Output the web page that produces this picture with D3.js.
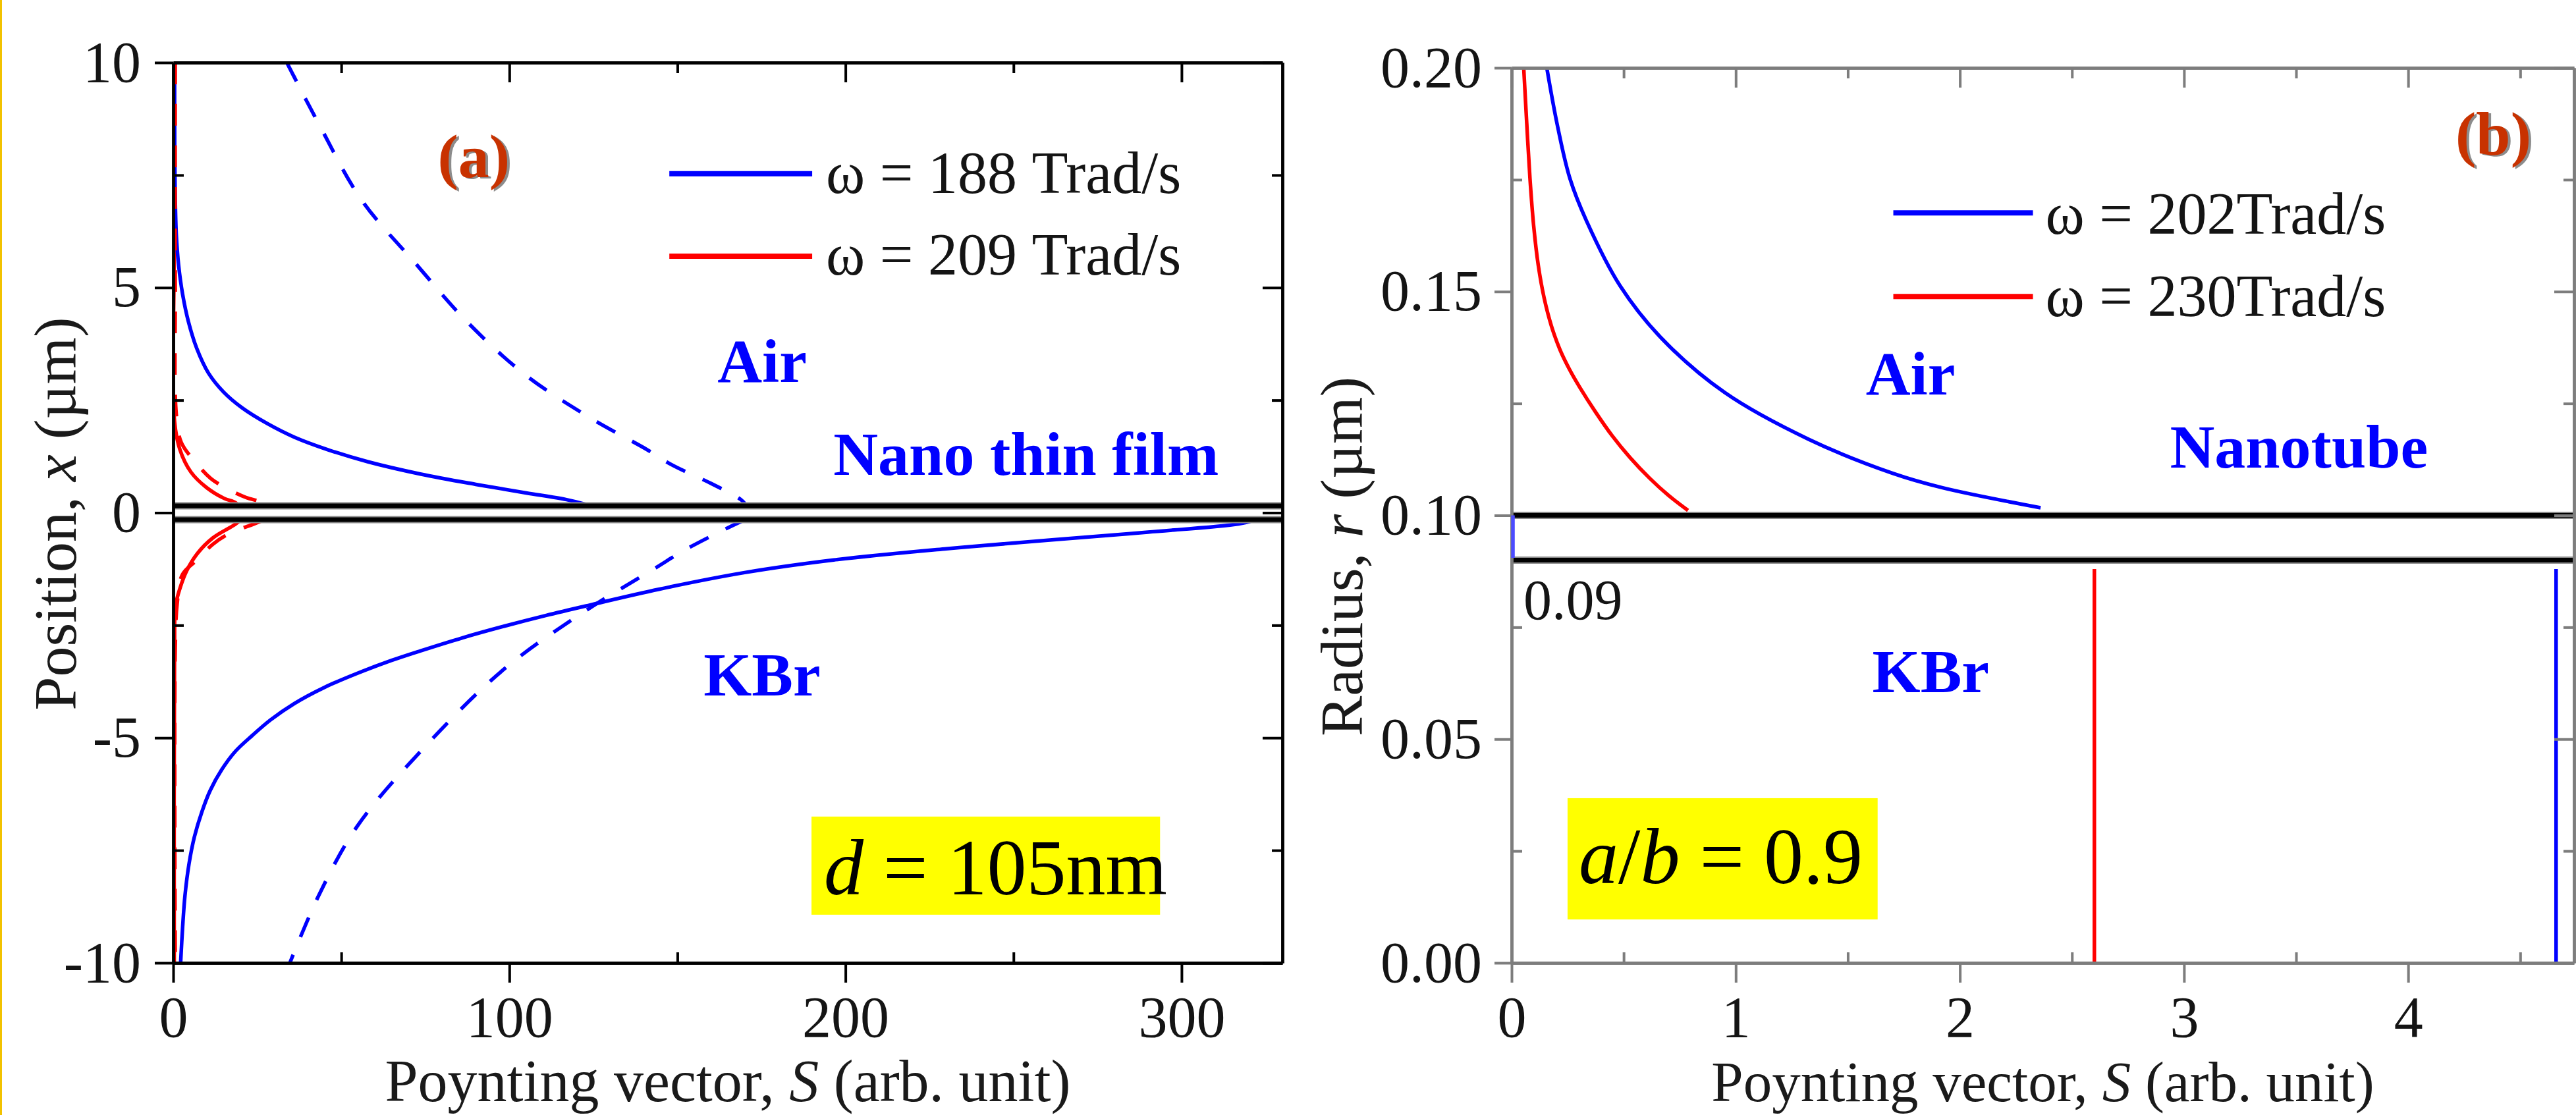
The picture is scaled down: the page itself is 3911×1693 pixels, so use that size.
<!DOCTYPE html>
<html>
<head>
<meta charset="utf-8">
<script src="https://cdnjs.cloudflare.com/ajax/libs/d3/7.8.5/d3.min.js"></script>
<style>
  body { margin: 0; background: #fff; }
  svg text { font-family: "Liberation Serif", "Times New Roman", serif; }
</style>
</head>
<body>
<script>
// size of the picture
var W = 3911, H = 1693;
var SERIF = "Liberation Serif, Times New Roman, serif";

// ---- panel (a) : thin film, points are [S, x(um)] ----
var blueSolidAirA = [[0.4,10],[0.45,8],[0.6,7],[0.9,6.2],[1.6,5.5],[2.8,4.85],[4.5,4.25],[7,3.65],[10.5,3.1],[15,2.68],[20.5,2.33],[28,1.98],[36,1.68],[46,1.4],[58,1.13],[73.5,0.86],[90,0.63],[105,0.44],[117,0.29],[124,0.16]];
var blueSolidKbrA = [[322,-0.16],[317,-0.25],[290,-0.43],[262,-0.6],[230,-0.8],[196.5,-1.05],[170,-1.33],[144.5,-1.7],[124,-2.05],[111,-2.28],[98.5,-2.52],[86,-2.78],[73.5,-3.07],[65,-3.28],[54.7,-3.57],[45,-3.88],[36,-4.24],[29,-4.6],[23.5,-4.95],[18.5,-5.3],[14.5,-5.7],[11,-6.17],[8.5,-6.65],[6.3,-7.2],[4.7,-7.8],[3.5,-8.5],[2.8,-9.2],[2.2,-10]];
var blueDashAirA  = [[33.8,10],[36,9.68],[43.5,8.61],[56,6.95],[72.3,5.52],[87.3,4.25],[104.8,3.06],[124,2.11],[141,1.40],[148.2,1.07],[160,0.65],[168.9,0.29],[170.5,0.16]];
var blueDashKbrA  = [[170,-0.16],[166,-0.3],[152.4,-0.82],[143,-1.25],[123.5,-2.14],[98.5,-3.47],[73.5,-5.31],[54.7,-6.97],[43.5,-8.47],[34.7,-10]];
var redSolidAirA  = [[0.3,10],[0.3,6],[0.4,2.03],[2.0,1.40],[5.3,0.90],[9.9,0.56],[15.1,0.32],[18.4,0.23],[19.5,0.16]];
var redDashAirA   = [[0.6,10],[0.6,5],[0.9,2.2],[2.35,1.57],[6.3,1.15],[11.2,0.76],[16.4,0.52],[21.6,0.34],[26.9,0.22],[28,0.16]];
var redSolidKbrA  = [[20,-0.16],[18.4,-0.26],[11.8,-0.56],[7.25,-0.9],[4.0,-1.29],[2.0,-1.68],[0.7,-2.07],[0.4,-3],[0.3,-10]];
var redDashKbrA   = [[27,-0.16],[24,-0.25],[17,-0.45],[11.8,-0.7],[7.2,-1.04],[2.7,-1.38],[1.2,-2.0],[0.6,-3],[0.6,-10]];
var filmA = [0.155, -0.155];
var legendA = ["\u03c9 = 188 Trad/s", "\u03c9 = 209 Trad/s"];
var xTicksA = [0, 100, 200, 300], xMinorA = [50, 150, 250];
var yTicksA = [-10, -5, 0, 5, 10], yMinorA = [-7.5, -2.5, 2.5, 7.5];

// ---- panel (b) : nanotube, points are [S, r(um)] ----
var blueAirB  = [[0.157,0.200],[0.204,0.1872],[0.26,0.1753],[0.335,0.1657],[0.484,0.1513],[0.672,0.1394],[0.952,0.1274],[1.325,0.117],[1.70,0.1094],[1.92,0.1062],[2.36,0.1017]];
var redAirB   = [[0.054,0.200],[0.0675,0.1876],[0.0819,0.1753],[0.0984,0.1647],[0.1189,0.1559],[0.1454,0.1485],[0.1777,0.1423],[0.2159,0.137],[0.2584,0.1326],[0.3054,0.1285],[0.373,0.1232],[0.447,0.1179],[0.5286,0.1129],[0.6159,0.1083],[0.699,0.1045],[0.787,0.1011]];
var blueWallB = [[0.006,0.1],[0.006,0.0905]];
var blueKbrB  = [[4.66,0.088],[4.66,0]];
var redKbrB   = [[2.60,0.088],[2.60,0]];
var tubeB = [0.10, 0.09];
var legendB = ["\u03c9 = 202Trad/s", "\u03c9 = 230Trad/s"];
var xTicksB = [0, 1, 2, 3, 4], xMinorB = [0.5, 1.5, 2.5, 3.5, 4.5];
var yTicksB = [0, 0.05, 0.10, 0.15, 0.20], yMinorB = [0.025, 0.075, 0.125, 0.175];

var BLUE = "#0000ff", RED = "#ff0000";

var svg = d3.select("body").append("svg")
    .attr("width", W)
    .attr("height", H);
svg.append("rect").attr("width", W).attr("height", H).attr("fill", "#fff");
// thin yellow edge on the left of the picture
svg.append("line").attr("x1", 1.5).attr("x2", 1.5).attr("y1", 0).attr("y2", H)
    .attr("stroke", "#f2c200").attr("stroke-width", 3);

//scales
var xA = d3.scaleLinear().domain([0, 330]).range([263, 1947]);
var yA = d3.scaleLinear().domain([-10, 10]).range([1462, 95]);
var xB = d3.scaleLinear().domain([0, 4.74]).range([2295, 3908]);
var yB = d3.scaleLinear().domain([0, 0.20]).range([1462, 103]);

function addClip(id, x, y) {
  svg.append("clipPath").attr("id", id).append("rect")
    .attr("x", x.range()[0]).attr("y", y.range()[1])
    .attr("width", x.range()[1] - x.range()[0])
    .attr("height", y.range()[0] - y.range()[1]);
}
addClip("clipA", xA, yA);
addClip("clipB", xB, yB);

function series(g, data, x, y, color, dash) {
  var line = d3.line()
      .x(function(d) { return x(d[0]); })
      .y(function(d) { return y(d[1]); })
      .curve(d3.curveCatmullRom.alpha(0.5));
  g.append("path")
      .datum(data)
      .attr("d", line)
      .attr("fill", "none")
      .attr("stroke", color)
      .attr("stroke-width", 5.5)
      .attr("stroke-dasharray", dash || null);
}

// thick black boundary lines (film / tube walls)
function boundary(g, x, y, v) {
  g.append("line").attr("x1", x.range()[0]).attr("x2", x.range()[1])
    .attr("y1", y(v)).attr("y2", y(v)).attr("stroke", "#8a8a8a").attr("stroke-width", 11);
  g.append("line").attr("x1", x.range()[0]).attr("x2", x.range()[1])
    .attr("y1", y(v)).attr("y2", y(v)).attr("stroke", "#000").attr("stroke-width", 7);
}

function axes(x, y, o) {
  var x0 = x.range()[0], x1 = x.range()[1], y0 = y.range()[0], y1 = y.range()[1];
  function style(g, labels) {
    g.attr("font-family", SERIF).attr("font-size", null);
    g.select(".domain").attr("stroke", o.color).attr("stroke-width", 4.5);
    g.selectAll(".tick line").attr("stroke", o.color).attr("stroke-width", 4);
    if (labels) g.selectAll(".tick text").attr("font-family", SERIF).attr("font-size", "88px").attr("fill", "#141414");
    else g.selectAll(".tick text").remove();
  }
  // bottom: major out, minor in
  svg.append("g").attr("transform", "translate(0," + y0 + ")")
    .call(d3.axisBottom(x).tickValues(o.xMinor).tickSize(-16).tickSizeOuter(0)).call(style, false);
  svg.append("g").attr("transform", "translate(0," + y0 + ")")
    .call(d3.axisBottom(x).tickValues(o.xTicks).tickSize(30).tickPadding(20).tickSizeOuter(0)
      .tickFormat(o.xFmt)).call(style, true);
  // top: all inward
  svg.append("g").attr("transform", "translate(0," + y1 + ")")
    .call(d3.axisTop(x).tickValues(o.xMinor).tickSize(-16).tickSizeOuter(0)).call(style, false);
  svg.append("g").attr("transform", "translate(0," + y1 + ")")
    .call(d3.axisTop(x).tickValues(o.xTicks).tickSize(-30).tickSizeOuter(0)).call(style, false);
  // left: major out, minor in
  svg.append("g").attr("transform", "translate(" + x0 + ",0)")
    .call(d3.axisLeft(y).tickValues(o.yMinor).tickSize(-16).tickSizeOuter(0)).call(style, false);
  svg.append("g").attr("transform", "translate(" + x0 + ",0)")
    .call(d3.axisLeft(y).tickValues(o.yTicks).tickSize(o.leftTick).tickPadding(o.leftPad).tickSizeOuter(0)
      .tickFormat(o.yFmt)).call(style, true);
  // right: all inward
  svg.append("g").attr("transform", "translate(" + x1 + ",0)")
    .call(d3.axisRight(y).tickValues(o.yMinor).tickSize(-16).tickSizeOuter(0)).call(style, false);
  svg.append("g").attr("transform", "translate(" + x1 + ",0)")
    .call(d3.axisRight(y).tickValues(o.yTicks).tickSize(-30).tickSizeOuter(0)).call(style, false);
}

function txt(g, x, y, size) {
  return g.append("text").attr("x", x).attr("y", y)
    .attr("font-family", SERIF).attr("font-size", size + "px");
}

function legend(g, labels, colors, sx0, sx1, x, y, pos, textS, textPos) {
  labels.forEach(function(t, i) {
    g.append("line").attr("x1", x(sx0)).attr("x2", x(sx1))
      .attr("y1", y(pos[i])).attr("y2", y(pos[i]))
      .attr("stroke", colors[i]).attr("stroke-width", 8);
    txt(g, x(textS), y(textPos[i]), 90).attr("fill", "#141414").text(t);
  });
}

function bold(g, t, x, y, size, color) {
  txt(g, x, y, size).attr("font-weight", "bold").attr("fill", color).text(t);
}

function panelTag(g, t, x, y) {
  txt(g, x + 4, y + 2, 94).attr("text-anchor", "middle")
    .attr("font-weight", "bold").attr("fill", "#8c8c8c").text(t);
  txt(g, x, y, 94).attr("text-anchor", "middle")
    .attr("font-weight", "bold").attr("fill", "#c83200").text(t);
}

function xTitle(x, size) {
  var t = txt(svg, (x.range()[0] + x.range()[1]) / 2, 1672, size)
    .attr("text-anchor", "middle").attr("fill", "#1a1a1a");
  t.append("tspan").text("Poynting vector, ");
  t.append("tspan").attr("font-style", "italic").text("S");
  t.append("tspan").text(" (arb. unit)");
}

function yTitle(px, py, name, sym) {
  var t = svg.append("text").attr("transform", "translate(" + px + "," + py + ") rotate(-90)")
    .attr("font-family", SERIF)
    .attr("text-anchor", "middle").attr("font-size", "92px").attr("fill", "#1a1a1a");
  t.append("tspan").text(name + ", ");
  t.append("tspan").attr("font-style", "italic").text(sym);
  t.append("tspan").text(" (\u00b5m)");
}

// ================= panel (a) =================
var gA = svg.append("g").attr("clip-path", "url(#clipA)");
series(gA, redSolidAirA, xA, yA, RED);
series(gA, redSolidKbrA, xA, yA, RED);
series(gA, blueSolidAirA, xA, yA, BLUE);
series(gA, blueSolidKbrA, xA, yA, BLUE);
series(gA, redDashAirA, xA, yA, RED, "33,30");
series(gA, redDashKbrA, xA, yA, RED, "33,30");
series(gA, blueDashAirA, xA, yA, BLUE, "32,29");
series(gA, blueDashKbrA, xA, yA, BLUE, "32,29");
filmA.forEach(function(v) { boundary(gA, xA, yA, v); });

axes(xA, yA, {color: "#000", xTicks: xTicksA, xMinor: xMinorA, yTicks: yTicksA, yMinor: yMinorA,
  xFmt: function(d) { return String(d); }, yFmt: function(d) { return String(d); },
  leftTick: 28, leftPad: 21});

var annA = svg.append("g");
legend(annA, legendA, [BLUE, RED], 147.6, 190.1, xA, yA, [7.53, 5.70], 194.2, [7.10, 5.29]);
panelTag(annA, "(a)", xA(89.4), yA(7.45));
bold(annA, "Air", xA(161.9), yA(2.90), 94, BLUE);
bold(annA, "Nano thin film", xA(196.4), yA(0.845), 94, BLUE);
bold(annA, "KBr", xA(157.8), yA(-4.06), 94, BLUE);
annA.append("rect").attr("x", xA(189.9)).attr("y", yA(-6.75))
  .attr("width", xA(293.6) - xA(189.9)).attr("height", yA(-8.93) - yA(-6.75)).attr("fill", "#ffff00");
var dT = txt(annA, xA(193.6), yA(-8.48), 120).attr("fill", "#000");
dT.append("tspan").attr("font-style", "italic").text("d");
dT.append("tspan").text(" = 105nm");

xTitle(xA, 90);
yTitle(115, 780, "Position", "x");

// ================= panel (b) =================
var gB = svg.append("g").attr("clip-path", "url(#clipB)");
series(gB, redAirB, xB, yB, RED);
series(gB, blueAirB, xB, yB, BLUE);
series(gB, redKbrB, xB, yB, RED);
series(gB, blueKbrB, xB, yB, BLUE);
tubeB.forEach(function(v) { boundary(gB, xB, yB, v); });

axes(xB, yB, {color: "#7d7d7d", xTicks: xTicksB, xMinor: xMinorB, yTicks: yTicksB, yMinor: yMinorB,
  xFmt: function(d) { return String(d); }, yFmt: d3.format(".2f"),
  leftTick: 26, leftPad: 19});

// field inside the tube wall sits on the axis line
series(svg.append("g"), blueWallB, xB, yB, "#4b4bff");

var annB = svg.append("g");
legend(annB, legendB, [BLUE, RED], 1.703, 2.326, xB, yB, [0.1676, 0.1489], 2.382, [0.1629, 0.1445]);
panelTag(annB, "(b)", xB(4.38), yB(0.1806));
bold(annB, "Air", xB(1.58), yB(0.127), 94, BLUE);
bold(annB, "Nanotube", xB(2.937), yB(0.1107), 94, BLUE);
bold(annB, "KBr", xB(1.609), yB(0.0605), 94, BLUE);
txt(annB, xB(0.053), yB(0.0768), 86).attr("fill", "#141414").text("0.09");
annB.append("rect").attr("x", xB(0.2496)).attr("y", yB(0.0368))
  .attr("width", xB(1.633) - xB(0.2496)).attr("height", yB(0.0097) - yB(0.0368)).attr("fill", "#ffff00");
var abT = txt(annB, xB(0.30), yB(0.0178), 120).attr("fill", "#000");
abT.append("tspan").attr("font-style", "italic").text("a");
abT.append("tspan").text("/");
abT.append("tspan").attr("font-style", "italic").text("b");
abT.append("tspan").text(" = 0.9");

xTitle(xB, 87);
yTitle(2068, 845, "Radius", "r");
</script>
</body>
</html>
